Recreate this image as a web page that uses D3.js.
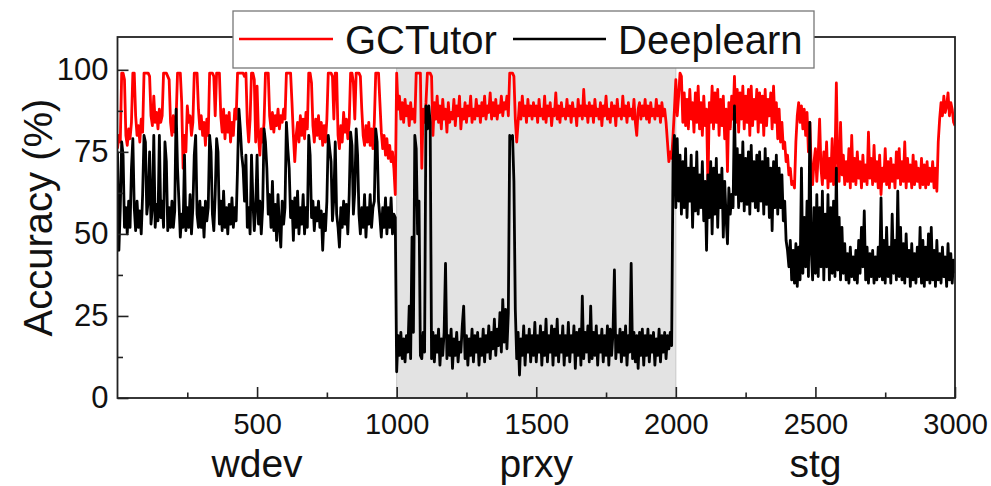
<!DOCTYPE html>
<html>
<head>
<meta charset="utf-8">
<script src="https://cdn.jsdelivr.net/npm/d3@7"></script>
<style>
    body { margin: 0; background: #fff; }
    svg { font-family: "Liberation Sans", Arial, sans-serif; }
</style>
</head>
<body>
<svg id="chart" width="991" height="486"></svg>
<script>
// sample spacing along the x axis (one value every 5 samples, 20 per row)
const step = 5;

// GCTutor accuracy (%)
const gctutor = [
    // wdev 0-995
    76, 80, 78, 99, 99, 97, 80, 77, 82, 79, 84, 99, 99, 86, 80, 83, 78, 85, 81, 99,
    99, 99, 99, 98, 86, 83, 92, 84, 87, 82, 88, 84, 86, 99, 99, 99, 98, 97, 84, 80,
    86, 81, 85, 99, 99, 99, 90, 70, 80, 75, 89, 84, 86, 80, 84, 99, 99, 99, 88, 82,
    86, 80, 84, 77, 85, 80, 99, 99, 99, 98, 86, 99, 99, 99, 86, 81, 88, 79, 86, 81,
    87, 78, 84, 80, 88, 85, 99, 99, 99, 99, 99, 98, 99, 84, 78, 85, 99, 99, 97, 78,
    95, 80, 74, 82, 78, 84, 99, 99, 99, 86, 82, 87, 81, 86, 83, 88, 82, 86, 84, 88,
    85, 99, 99, 99, 99, 90, 80, 72, 80, 84, 78, 86, 80, 85, 79, 87, 82, 99, 99, 96,
    83, 78, 85, 80, 86, 79, 84, 77, 83, 78, 85, 99, 99, 99, 98, 85, 99, 99, 80, 76,
    83, 78, 87, 81, 85, 79, 84, 99, 99, 96, 85, 99, 99, 99, 98, 88, 80, 77, 83, 78,
    84, 77, 82, 76, 84, 99, 99, 99, 90, 81, 76, 80, 74, 79, 73, 77, 72, 75, 70, 62,
    // prxy 1000-1995
    99, 88, 92, 85, 90, 84, 91, 86, 89, 83, 90, 85, 88, 84, 99, 99, 99, 99, 70, 88,
    84, 90, 99, 99, 99, 98, 80, 90, 85, 92, 84, 89, 82, 91, 85, 88, 81, 90, 84, 87,
    85, 91, 83, 89, 86, 92, 82, 88, 85, 90, 84, 89, 86, 92, 84, 88, 85, 91, 86, 89,
    84, 90, 86, 92, 85, 89, 87, 93, 85, 90, 86, 91, 85, 89, 87, 92, 86, 90, 88, 92,
    86, 99, 99, 99, 98, 85, 78, 84, 90, 85, 92, 86, 89, 84, 91, 86, 89, 85, 90, 86,
    89, 84, 91, 86, 88, 85, 92, 84, 89, 86, 90, 83, 88, 86, 93, 85, 89, 84, 90, 86,
    88, 85, 91, 86, 89, 84, 90, 86, 88, 83, 91, 86, 89, 85, 94, 86, 89, 84, 90, 86,
    89, 84, 91, 86, 88, 85, 90, 83, 89, 86, 92, 85, 88, 84, 90, 86, 89, 83, 91, 86,
    88, 85, 92, 86, 89, 84, 90, 86, 88, 85, 91, 84, 80, 88, 90, 85, 89, 86, 91, 85,
    89, 84, 90, 86, 88, 85, 91, 86, 89, 84, 90, 86, 88, 84, 78, 72, 75, 73, 80, 88,
    // stg 2000-3000
    97, 86, 92, 99, 98, 84, 93, 83, 91, 82, 94, 85, 90, 81, 93, 84, 95, 82, 90, 80,
    92, 83, 88, 64, 90, 84, 95, 82, 93, 84, 94, 80, 91, 83, 92, 79, 88, 69, 90, 82,
    92, 85, 98, 84, 94, 81, 93, 85, 95, 82, 92, 84, 94, 80, 95, 83, 91, 85, 94, 81,
    93, 84, 92, 80, 94, 83, 91, 86, 93, 82, 95, 84, 90, 79, 88, 78, 84, 76, 78, 72,
    74, 68, 70, 65, 66, 64, 78, 86, 90, 84, 89, 82, 88, 80, 87, 75, 84, 70, 65, 72,
    76, 66, 74, 85, 70, 65, 75, 67, 78, 64, 73, 66, 79, 65, 72, 96, 70, 66, 84, 68,
    74, 65, 72, 66, 76, 64, 80, 66, 73, 65, 75, 67, 72, 64, 74, 66, 71, 65, 81, 67,
    73, 65, 77, 66, 72, 64, 74, 62, 70, 66, 76, 65, 72, 64, 73, 66, 71, 64, 75, 67,
    76, 65, 72, 66, 78, 64, 73, 66, 71, 64, 74, 65, 72, 66, 70, 64, 73, 65, 71, 64,
    72, 65, 70, 66, 72, 64, 70, 63, 78, 85, 90, 86, 92, 87, 89, 93, 86, 90, 88, 84,
    83
];

// Deeplearn accuracy (%)
const deeplearn = [
    // wdev 0-995
    75, 45, 58, 78, 74, 52, 58, 50, 60, 52, 70, 79, 58, 51, 60, 52, 57, 50, 62, 80,
    78, 56, 60, 75, 53, 58, 80, 52, 59, 54, 80, 55, 60, 52, 78, 72, 51, 58, 52, 60,
    52, 57, 88, 70, 60, 49, 56, 52, 74, 51, 58, 52, 62, 50, 58, 74, 80, 56, 52, 60,
    52, 58, 49, 60, 54, 58, 80, 75, 56, 51, 62, 79, 75, 53, 60, 51, 63, 52, 58, 50,
    59, 53, 61, 52, 58, 54, 70, 88, 82, 74, 70, 60, 74, 52, 58, 50, 74, 60, 51, 58,
    74, 53, 60, 50, 58, 82, 78, 70, 56, 62, 52, 66, 51, 59, 48, 62, 52, 46, 60, 53,
    58, 84, 76, 70, 55, 60, 48, 61, 52, 63, 50, 58, 53, 62, 50, 58, 52, 80, 74, 55,
    60, 51, 58, 54, 60, 52, 57, 45, 56, 51, 60, 80, 76, 72, 54, 61, 78, 56, 52, 46,
    58, 52, 60, 53, 59, 50, 62, 81, 77, 56, 63, 82, 74, 56, 50, 58, 52, 62, 49, 58,
    53, 62, 52, 58, 60, 82, 78, 60, 55, 49, 58, 52, 61, 50, 58, 52, 61, 50, 56, 55,
    // prxy 1000-1995
    8, 19, 13, 20, 12, 18, 11, 19, 14, 28, 12, 49, 20, 80, 76, 50, 60, 13, 12, 20,
    14, 89, 82, 89, 84, 12, 20, 11, 19, 14, 21, 10, 18, 13, 20, 41, 12, 19, 13, 21,
    9, 18, 13, 20, 11, 17, 14, 22, 28, 12, 19, 10, 18, 13, 21, 11, 19, 14, 20, 10,
    18, 13, 21, 11, 19, 14, 22, 12, 20, 15, 24, 13, 21, 16, 26, 14, 30, 17, 27, 15,
    26, 80, 79, 80, 66, 27, 12, 20, 7, 18, 13, 22, 10, 19, 14, 21, 11, 19, 13, 23,
    11, 19, 14, 22, 10, 20, 13, 24, 11, 19, 14, 22, 10, 21, 13, 24, 11, 19, 14, 22,
    10, 19, 13, 23, 11, 19, 14, 22, 9, 20, 13, 21, 10, 31, 12, 20, 14, 22, 11, 28,
    12, 20, 13, 22, 10, 19, 14, 21, 11, 19, 13, 22, 10, 21, 13, 20, 39, 12, 19, 14,
    21, 11, 20, 13, 22, 10, 19, 14, 41, 12, 20, 11, 19, 9, 20, 13, 21, 10, 19, 13,
    21, 11, 19, 14, 20, 10, 18, 13, 21, 11, 19, 14, 20, 12, 19, 15, 20, 16, 72, 80,
    // stg 2000-3000
    58, 79, 60, 74, 56, 72, 58, 76, 55, 70, 60, 74, 52, 70, 57, 75, 56, 68, 58, 72,
    54, 66, 45, 68, 55, 72, 50, 70, 56, 73, 52, 68, 58, 70, 49, 66, 55, 47, 64, 56,
    62, 58, 89, 62, 76, 58, 74, 60, 78, 57, 73, 59, 75, 56, 77, 60, 72, 58, 74, 57,
    75, 60, 72, 56, 76, 59, 73, 55, 70, 51, 72, 58, 74, 56, 70, 58, 68, 54, 60, 48,
    45, 40, 48, 36, 45, 35, 47, 34, 46, 36, 70, 38, 55, 40, 60, 37, 84, 45, 36, 58,
    38, 62, 37, 58, 40, 63, 36, 56, 40, 62, 36, 58, 38, 60, 37, 70, 39, 55, 36, 52,
    38, 47, 36, 44, 35, 46, 37, 43, 36, 45, 35, 48, 38, 52, 40, 57, 36, 46, 35, 44,
    37, 45, 35, 43, 36, 46, 37, 61, 36, 48, 35, 52, 37, 46, 35, 56, 38, 48, 36, 63,
    37, 52, 36, 47, 35, 50, 37, 45, 34, 47, 36, 44, 35, 46, 37, 52, 35, 48, 34, 46,
    36, 50, 35, 52, 36, 45, 34, 48, 36, 44, 35, 46, 37, 43, 34, 47, 36, 44, 35, 42,
    38
];

const series = [
    { name: "GCTutor", values: gctutor, color: "#ff0000" },
    { name: "Deeplearn", values: deeplearn, color: "#000000" }
];

// workload segments under the x axis
const segments = ["wdev", "prxy", "stg"];
const segmentCenters = [500, 1500, 2500];
// shaded segment
const shadedRange = [1000, 2000];

const xMajorTicks = [500, 1000, 1500, 2000, 2500, 3000];
const xMinorTicks = [250, 750, 1250, 1750, 2250, 2750];
const yMajorTicks = [0, 25, 50, 75, 100];
const yMinorTicks = [12.5, 37.5, 62.5, 87.5];

const plotLeft = 117.5;
const plotRight = 955;
const plotTop = 37;
const plotBottom = 398;

const svg = d3.select("#chart");

const xScale = d3.scaleLinear().domain([0, 3000]).range([plotLeft, plotRight]);
const yScale = d3.scaleLinear().domain([0, 110]).range([plotBottom, plotTop]);

svg.append("clipPath")
    .attr("id", "plot-clip")
    .append("rect")
    .attr("x", plotLeft)
    .attr("y", plotTop)
    .attr("width", plotRight - plotLeft)
    .attr("height", plotBottom - plotTop);

// shaded prxy region
svg.append("rect")
    .attr("x", xScale(shadedRange[0]))
    .attr("y", plotTop)
    .attr("width", xScale(shadedRange[1]) - xScale(shadedRange[0]))
    .attr("height", plotBottom - plotTop)
    .style("fill", "#e3e3e3")
    .style("stroke", "#c8c8c8")
    .style("stroke-width", 1);

// lines
const line = d3.line()
    .x(function (d, i) { return xScale(i * step); })
    .y(function (d) { return yScale(d); });

svg.append("g")
    .attr("clip-path", "url(#plot-clip)")
    .selectAll("path")
    .data(series)
    .join("path")
    .attr("d", function (d) { return line(d.values); })
    .style("fill", "none")
    .style("stroke", function (d) { return d.color; })
    .style("stroke-width", 2.8)
    .style("stroke-linejoin", "round");

// x axis, major ticks with labels
const xAxis = svg.append("g")
    .attr("transform", `translate(0, ${plotBottom})`)
    .call(d3.axisBottom(xScale).tickValues(xMajorTicks).tickFormat(d3.format("d"))
        .tickSizeInner(-11).tickSizeOuter(0).tickPadding(15));
xAxis.selectAll("text").attr("font-size", "29px").style("fill", "#111");

// x axis, minor ticks
svg.append("g")
    .attr("transform", `translate(0, ${plotBottom})`)
    .call(d3.axisBottom(xScale).tickValues(xMinorTicks).tickSizeInner(-5.5).tickSizeOuter(0).tickFormat(""));

// y axis, major ticks with labels
const yAxis = svg.append("g")
    .attr("transform", `translate(${plotLeft}, 0)`)
    .call(d3.axisLeft(yScale).tickValues(yMajorTicks).tickSizeInner(-11).tickSizeOuter(0).tickPadding(9));
yAxis.selectAll("text").attr("font-size", "31px").style("fill", "#111");

// y axis, minor ticks
svg.append("g")
    .attr("transform", `translate(${plotLeft}, 0)`)
    .call(d3.axisLeft(yScale).tickValues(yMinorTicks).tickSizeInner(-5.5).tickSizeOuter(0).tickFormat(""));

svg.selectAll(".domain").remove();
svg.selectAll(".tick line").style("stroke", "#222").style("stroke-width", 1.6);

// plot frame
svg.append("rect")
    .attr("x", plotLeft)
    .attr("y", plotTop)
    .attr("width", plotRight - plotLeft)
    .attr("height", plotBottom - plotTop)
    .style("fill", "none")
    .style("stroke", "#222")
    .style("stroke-width", 1.8);

// segment names
svg.append("g")
    .selectAll("text")
    .data(segments)
    .join("text")
    .attr("x", function (d, i) { return xScale(segmentCenters[i]); })
    .attr("y", 477)
    .attr("text-anchor", "middle")
    .attr("font-size", "39px")
    .style("fill", "#111")
    .text(function (d) { return d; });

// y axis title
svg.append("text")
    .attr("transform", `translate(52, ${(plotTop + plotBottom) / 2}) rotate(-90)`)
    .attr("text-anchor", "middle")
    .attr("font-size", "40px")
    .style("fill", "#111")
    .text("Accuracy (%)");

// legend
const legend = svg.append("g");
legend.append("rect")
    .attr("x", 233)
    .attr("y", 11)
    .attr("width", 581)
    .attr("height", 57)
    .style("fill", "#fff")
    .style("stroke", "#777")
    .style("stroke-width", 1.3);

const legendItems = [
    { x1: 239, x2: 333, tx: 345 },
    { x1: 513, x2: 606, tx: 618 }
];
series.forEach(function (s, i) {
    legend.append("line")
        .attr("x1", legendItems[i].x1)
        .attr("x2", legendItems[i].x2)
        .attr("y1", 39)
        .attr("y2", 39)
        .style("stroke", s.color)
        .style("stroke-width", 2.4);
    legend.append("text")
        .attr("x", legendItems[i].tx)
        .attr("y", 54)
        .attr("font-size", "40px")
        .style("fill", "#111")
        .text(s.name);
});
</script>
</body>
</html>
